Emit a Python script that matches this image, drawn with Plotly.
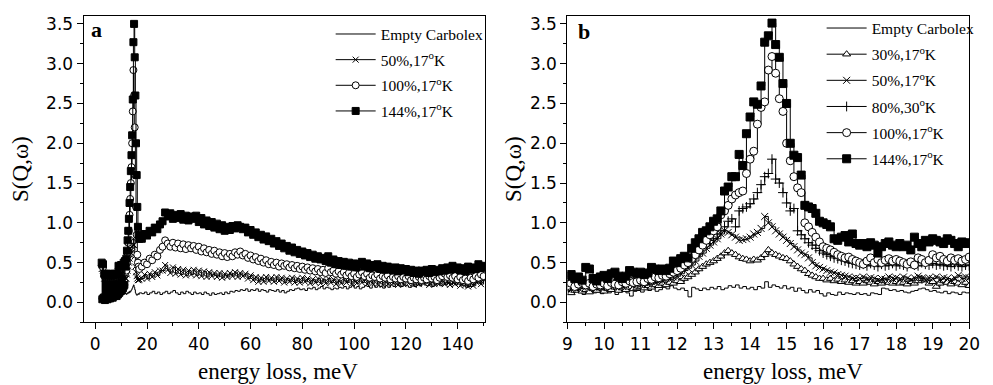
import plotly.graph_objects as go

# ---------------- Panel a data ----------------
# energy grid pieces (meV)
xa_low = [2.5 + 0.25 * i for i in range(38)]
xa_peak = [12.0 + 0.25 * i for i in range(21)]
xa_tail = [18 + i for i in range(133)]
x_a = xa_low + xa_peak + xa_tail

a_empty_low = [0.05, 0.02, 0.06, 0.03, 0.05, 0.02, 0.04, 0.03, 0.05, 0.04,
               0.06, 0.04, 0.05, 0.06, 0.05, 0.07, 0.06, 0.05, 0.07, 0.06,
               0.08, 0.07, 0.06, 0.08, 0.07, 0.09, 0.08, 0.10, 0.09, 0.08,
               0.10, 0.09, 0.11, 0.10, 0.12, 0.11, 0.12, 0.11]
a_empty_peak = [0.10, 0.12, 0.11, 0.13, 0.12, 0.14, 0.13, 0.15, 0.16, 0.18, 0.20,
                0.22, 0.19, 0.16, 0.12, 0.10, 0.09, 0.10, 0.11, 0.10, 0.12]
a_empty_tail = [0.11, 0.13, 0.10, 0.12, 0.14, 0.11, 0.13, 0.10, 0.12, 0.14,
                0.11, 0.13, 0.15, 0.12, 0.10, 0.13, 0.11, 0.14, 0.12, 0.10,
                0.13, 0.11, 0.12, 0.10, 0.13, 0.11, 0.09, 0.12, 0.10, 0.11,
                0.12, 0.10, 0.13, 0.11, 0.14, 0.13, 0.15, 0.14, 0.16, 0.15,
                0.17, 0.14, 0.16, 0.15, 0.17, 0.14, 0.16, 0.15, 0.13, 0.16,
                0.15, 0.14, 0.16, 0.13, 0.15, 0.12, 0.14, 0.16, 0.15, 0.17,
                0.18, 0.16, 0.17, 0.15, 0.18, 0.17, 0.19, 0.16, 0.18, 0.20,
                0.17, 0.19, 0.18, 0.16, 0.18, 0.17, 0.19, 0.18, 0.20, 0.17,
                0.19, 0.21, 0.18, 0.20, 0.17, 0.19, 0.21, 0.20, 0.18, 0.22,
                0.19, 0.21, 0.20, 0.18, 0.21, 0.19, 0.22, 0.20, 0.23, 0.21,
                0.20, 0.22, 0.21, 0.19, 0.22, 0.20, 0.23, 0.21, 0.24, 0.22,
                0.21, 0.23, 0.20, 0.22, 0.24, 0.21, 0.23, 0.22, 0.25, 0.23,
                0.24, 0.22, 0.25, 0.23, 0.21, 0.19, 0.22, 0.20, 0.23, 0.25,
                0.24, 0.27, 0.26]

a_50_low = [0.42, 0.04, 0.40, 0.06, 0.30, 0.03, 0.29, 0.05, 0.30, 0.04,
            0.28, 0.06, 0.29, 0.05, 0.30, 0.07, 0.28, 0.06, 0.29, 0.08,
            0.30, 0.09, 0.29, 0.08, 0.31, 0.10, 0.38, 0.12, 0.37, 0.14,
            0.39, 0.15, 0.38, 0.17, 0.41, 0.20, 0.42, 0.30]
a_50_peak = [0.30, 0.35, 0.40, 0.45, 0.50, 0.55, 0.60, 0.62, 0.66, 0.70, 0.72,
             0.80, 0.72, 0.58, 0.45, 0.38, 0.33, 0.30, 0.28, 0.28, 0.29]
a_50_tail = [0.30, 0.35, 0.30, 0.36, 0.32, 0.38, 0.34, 0.40, 0.40, 0.47,
             0.41, 0.37, 0.44, 0.36, 0.42, 0.35, 0.41, 0.34, 0.40, 0.35,
             0.41, 0.34, 0.40, 0.33, 0.39, 0.32, 0.38, 0.33, 0.37, 0.32,
             0.37, 0.31, 0.36, 0.32, 0.37, 0.33, 0.38, 0.32, 0.37, 0.33,
             0.36, 0.30, 0.34, 0.28, 0.32, 0.26, 0.31, 0.26, 0.32, 0.27,
             0.31, 0.26, 0.32, 0.27, 0.31, 0.25, 0.30, 0.26, 0.31, 0.25,
             0.30, 0.25, 0.31, 0.26, 0.30, 0.24, 0.29, 0.25, 0.30, 0.24,
             0.29, 0.24, 0.30, 0.25, 0.29, 0.23, 0.28, 0.24, 0.30, 0.25,
             0.29, 0.23, 0.28, 0.24, 0.30, 0.25, 0.29, 0.23, 0.28, 0.24,
             0.29, 0.23, 0.28, 0.22, 0.27, 0.23, 0.29, 0.24, 0.28, 0.22,
             0.27, 0.23, 0.29, 0.24, 0.28, 0.22, 0.27, 0.23, 0.29, 0.24,
             0.28, 0.22, 0.27, 0.23, 0.29, 0.24, 0.28, 0.23, 0.27, 0.22,
             0.28, 0.23, 0.27, 0.21, 0.26, 0.22, 0.20, 0.25, 0.21, 0.26,
             0.28, 0.23, 0.29]

a_100_low = [0.46, 0.05, 0.44, 0.07, 0.33, 0.04, 0.32, 0.06, 0.33, 0.05,
             0.31, 0.07, 0.32, 0.06, 0.33, 0.08, 0.31, 0.07, 0.32, 0.09,
             0.33, 0.10, 0.32, 0.09, 0.34, 0.11, 0.42, 0.13, 0.41, 0.15,
             0.43, 0.16, 0.42, 0.19, 0.45, 0.22, 0.46, 0.38]
a_100_peak = [0.40, 0.50, 0.62, 0.75, 0.90, 1.10, 1.30, 1.50, 1.70, 2.00, 2.40,
              2.92, 2.60, 2.20, 1.60, 1.20, 0.85, 0.60, 0.50, 0.45, 0.42]
a_100_tail = [0.45, 0.50, 0.48, 0.55, 0.53, 0.60, 0.58, 0.66, 0.70, 0.78,
              0.74, 0.70, 0.75, 0.69, 0.74, 0.68, 0.73, 0.67, 0.72, 0.68,
              0.71, 0.66, 0.70, 0.64, 0.68, 0.63, 0.66, 0.61, 0.65, 0.60,
              0.63, 0.58, 0.62, 0.57, 0.61, 0.58, 0.63, 0.60, 0.64, 0.59,
              0.61, 0.56, 0.59, 0.54, 0.57, 0.52, 0.55, 0.50, 0.53, 0.48,
              0.51, 0.47, 0.50, 0.45, 0.49, 0.46, 0.48, 0.44, 0.47, 0.43,
              0.46, 0.42, 0.45, 0.41, 0.44, 0.40, 0.43, 0.39, 0.42, 0.38,
              0.41, 0.37, 0.43, 0.38, 0.40, 0.36, 0.39, 0.35, 0.38, 0.34,
              0.37, 0.33, 0.36, 0.32, 0.35, 0.38, 0.33, 0.36, 0.31, 0.34,
              0.32, 0.35, 0.30, 0.33, 0.31, 0.34, 0.29, 0.32, 0.30, 0.33,
              0.29, 0.32, 0.30, 0.33, 0.28, 0.31, 0.29, 0.32, 0.28, 0.31,
              0.29, 0.33, 0.30, 0.32, 0.28, 0.31, 0.33, 0.36, 0.32, 0.34,
              0.31, 0.33, 0.29, 0.32, 0.28, 0.30, 0.27, 0.31, 0.29, 0.33,
              0.31, 0.35, 0.33]

a_144_low = [0.50, 0.04, 0.48, 0.06, 0.36, 0.03, 0.35, 0.05, 0.36, 0.04,
             0.34, 0.06, 0.35, 0.05, 0.36, 0.07, 0.34, 0.06, 0.35, 0.08,
             0.36, 0.09, 0.35, 0.08, 0.36, 0.10, 0.46, 0.12, 0.45, 0.14,
             0.47, 0.15, 0.46, 0.18, 0.50, 0.22, 0.52, 0.45]
a_144_peak = [0.55, 0.65, 0.78, 0.90, 1.05, 1.25, 1.45, 1.65, 1.85, 2.10, 2.55,
              3.27, 3.50, 3.08, 2.60, 2.00, 1.60, 1.20, 0.95, 0.85, 0.80]
a_144_tail = [0.80, 0.86, 0.84, 0.90, 0.88, 0.94, 0.92, 0.98, 1.02, 1.13,
              1.08, 1.12, 1.05, 1.10, 1.06, 1.11, 1.04, 1.09, 1.03, 1.08,
              1.05, 1.09, 1.01, 1.06, 0.98, 1.03, 0.96, 1.01, 0.94, 0.99,
              0.92, 0.97, 0.90, 0.95, 0.91, 0.96, 0.93, 0.97, 0.95, 0.92,
              0.94, 0.88, 0.91, 0.85, 0.88, 0.82, 0.85, 0.79, 0.83, 0.77,
              0.80, 0.74, 0.77, 0.71, 0.74, 0.68, 0.71, 0.65, 0.69, 0.63,
              0.66, 0.61, 0.64, 0.59, 0.62, 0.57, 0.60, 0.55, 0.58, 0.54,
              0.56, 0.52, 0.58, 0.50, 0.54, 0.48, 0.52, 0.47, 0.51, 0.46,
              0.50, 0.45, 0.49, 0.44, 0.48, 0.51, 0.45, 0.49, 0.43, 0.47,
              0.44, 0.48, 0.42, 0.46, 0.41, 0.45, 0.43, 0.40, 0.44, 0.39,
              0.43, 0.40, 0.42, 0.38, 0.41, 0.37, 0.40, 0.36, 0.40, 0.38,
              0.41, 0.37, 0.42, 0.38, 0.41, 0.39, 0.43, 0.40, 0.44, 0.41,
              0.46, 0.42, 0.44, 0.40, 0.43, 0.39, 0.45, 0.41, 0.44, 0.42,
              0.48, 0.43, 0.46]

# ---------------- Panel b data ----------------
x_b = [round(9.0 + 0.1 * i, 1) for i in range(111)]

b_empty = [0.14, 0.12, 0.15, 0.13, 0.10, 0.14, 0.16, 0.12, 0.13, 0.11,
           0.15, 0.12, 0.14, 0.10, 0.13, 0.16, 0.12, 0.08, 0.14, 0.15,
           0.13, 0.17, 0.15, 0.18, 0.14, 0.16, 0.19, 0.17, 0.21, 0.18,
           0.16, 0.18, 0.15, 0.07, 0.19, 0.17, 0.15, 0.18, 0.16, 0.19,
           0.17, 0.20, 0.16, 0.18, 0.21, 0.19, 0.22, 0.18, 0.20, 0.17,
           0.19, 0.16, 0.20, 0.18, 0.26, 0.19, 0.22, 0.20, 0.18, 0.21,
           0.17, 0.19, 0.14, 0.18, 0.15, 0.12, 0.16, 0.13, 0.15, 0.11,
           0.08, 0.12, 0.10, 0.09, 0.13, 0.10, 0.12, 0.11, 0.10, 0.12,
           0.10, 0.11, 0.09, 0.12, 0.11, 0.10, 0.18, 0.17, 0.15, 0.16,
           0.14, 0.15, 0.13, 0.12, 0.14, 0.15, 0.17, 0.18, 0.16, 0.14,
           0.15, 0.13, 0.12, 0.14, 0.11, 0.13, 0.12, 0.10, 0.13, 0.12,
           0.13]

b_30 = [0.17, 0.12, 0.15, 0.18, 0.14, 0.16, 0.13, 0.17, 0.15, 0.18,
        0.14, 0.17, 0.16, 0.19, 0.15, 0.18, 0.16, 0.19, 0.17, 0.18,
        0.20, 0.18, 0.21, 0.19, 0.22, 0.21, 0.24, 0.22, 0.25, 0.24,
        0.27, 0.26, 0.30, 0.32, 0.35, 0.38, 0.42, 0.45, 0.48, 0.50,
        0.52, 0.55, 0.58, 0.62, 0.65, 0.62, 0.60, 0.57, 0.55, 0.54,
        0.52, 0.54, 0.53, 0.56, 0.60, 0.66, 0.62, 0.60, 0.58, 0.56,
        0.55, 0.52, 0.48, 0.45, 0.42, 0.40, 0.36, 0.34, 0.32, 0.30,
        0.30, 0.28, 0.30, 0.27, 0.29, 0.26, 0.28, 0.25, 0.27, 0.24,
        0.26, 0.24, 0.27, 0.25, 0.23, 0.26, 0.24, 0.27, 0.25, 0.24,
        0.26, 0.24, 0.25, 0.23, 0.26, 0.24, 0.27, 0.30, 0.28, 0.24,
        0.26, 0.20, 0.24, 0.27, 0.25, 0.23, 0.26, 0.24, 0.22, 0.25,
        0.21]

b_50 = [0.20, 0.17, 0.21, 0.18, 0.20, 0.22, 0.19, 0.21, 0.18, 0.20,
        0.19, 0.22, 0.20, 0.23, 0.21, 0.20, 0.22, 0.24, 0.21, 0.23,
        0.22, 0.25, 0.23, 0.26, 0.25, 0.28, 0.27, 0.30, 0.29, 0.32,
        0.33, 0.36, 0.40, 0.43, 0.47, 0.52, 0.58, 0.62, 0.68, 0.72,
        0.76, 0.80, 0.86, 0.90, 0.88, 0.85, 0.82, 0.78, 0.79, 0.80,
        0.82, 0.86, 0.88, 0.93, 1.08, 1.00, 0.95, 0.90, 0.86, 0.82,
        0.78, 0.74, 0.70, 0.66, 0.62, 0.60, 0.56, 0.50, 0.46, 0.44,
        0.42, 0.40, 0.38, 0.37, 0.35, 0.34, 0.33, 0.32, 0.30, 0.31,
        0.30, 0.32, 0.29, 0.31, 0.30, 0.28, 0.30, 0.29, 0.32, 0.30,
        0.31, 0.29, 0.32, 0.30, 0.28, 0.31, 0.33, 0.30, 0.28, 0.31,
        0.30, 0.32, 0.29, 0.31, 0.30, 0.28, 0.31, 0.34, 0.30, 0.32,
        0.31]

b_80 = [0.22, 0.20, 0.24, 0.21, 0.23, 0.25, 0.22, 0.24, 0.21, 0.23,
        0.22, 0.25, 0.23, 0.26, 0.24, 0.23, 0.26, 0.27, 0.24, 0.26,
        0.25, 0.28, 0.27, 0.30, 0.29, 0.32, 0.31, 0.35, 0.34, 0.38,
        0.40, 0.44, 0.48, 0.52, 0.56, 0.60, 0.65, 0.70, 0.74, 0.78,
        0.80, 0.86, 0.90, 0.95, 1.02, 1.05, 0.95, 1.15, 1.18, 1.20,
        1.24, 1.30, 1.38, 1.48, 1.58, 1.62, 1.80, 1.55, 1.50, 1.38,
        1.25, 1.15, 1.18, 0.90, 0.85, 0.80, 0.75, 0.72, 0.68, 0.65,
        0.62, 0.60, 0.58, 0.56, 0.55, 0.53, 0.52, 0.50, 0.49, 0.48,
        0.47, 0.48, 0.46, 0.49, 0.47, 0.45, 0.48, 0.46, 0.47, 0.49,
        0.46, 0.48, 0.47, 0.45, 0.49, 0.47, 0.46, 0.50, 0.48, 0.47,
        0.49, 0.47, 0.48, 0.46, 0.47, 0.45, 0.48, 0.46, 0.45, 0.47,
        0.46]

b_100 = [0.21, 0.24, 0.20, 0.23, 0.25, 0.22, 0.24, 0.20, 0.23, 0.22,
         0.24, 0.21, 0.25, 0.23, 0.22, 0.26, 0.24, 0.27, 0.25, 0.26,
         0.28, 0.26, 0.30, 0.29, 0.32, 0.31, 0.34, 0.33, 0.36, 0.38,
         0.40, 0.43, 0.47, 0.50, 0.55, 0.60, 0.66, 0.72, 0.78, 0.85,
         0.90, 0.95, 1.10, 1.15, 1.22, 1.30, 1.35, 1.38, 1.40, 1.62,
         1.80, 1.90, 2.24, 2.45, 2.52, 2.92, 3.09, 2.88, 2.56, 2.40,
         2.00, 1.78, 1.58, 1.44, 1.38, 1.00, 0.95, 0.88, 0.82, 0.76,
         0.70, 0.68, 0.66, 0.63, 0.60, 0.58, 0.56, 0.57, 0.54, 0.52,
         0.50, 0.48, 0.52, 0.56, 0.50, 0.54, 0.50, 0.53, 0.55, 0.52,
         0.54, 0.52, 0.50, 0.48, 0.51, 0.47, 0.56, 0.54, 0.50, 0.53,
         0.60, 0.56, 0.58, 0.54, 0.52, 0.56, 0.53, 0.55, 0.52, 0.54,
         0.57]

b_144 = [0.33, 0.35, 0.30, 0.32, 0.28, 0.44, 0.42, 0.30, 0.27, 0.32,
         0.34, 0.30, 0.36, 0.38, 0.33, 0.30, 0.33, 0.40, 0.38, 0.36,
         0.38, 0.35, 0.37, 0.44, 0.42, 0.40, 0.42, 0.40, 0.43, 0.52,
         0.50, 0.55, 0.58, 0.56, 0.68, 0.75, 0.80, 0.88, 0.90, 0.95,
         1.02, 1.05, 1.15, 1.40, 1.45, 1.58, 1.58, 1.86, 1.72, 2.12,
         2.33, 2.52, 2.49, 2.72, 3.27, 3.35, 3.51, 3.24, 3.08, 2.75,
         2.50, 2.00, 1.85, 1.82, 1.60, 1.22, 1.20, 1.18, 1.12, 1.02,
         1.00, 0.98, 0.95, 0.80, 0.78, 0.82, 0.84, 0.76, 0.86, 0.74,
         0.72, 0.74, 0.70, 0.75, 0.72, 0.62, 0.70, 0.74, 0.76, 0.72,
         0.70, 0.74, 0.70, 0.72, 0.66, 0.82, 0.74, 0.70, 0.78, 0.76,
         0.80, 0.78, 0.76, 0.74, 0.80, 0.78, 0.74, 0.70, 0.76, 0.74,
         0.75]

def lab(p, t):
    return f"{p}%,{t}<sup>o</sup>K"

SERIF = "Liberation Serif, Times New Roman, serif"
SANS = "DejaVu Sans, Verdana, sans-serif"

fig = go.Figure()

def add(x, y, name, symbol, fill, size, xa, ya, leg, grp, mode="lines+markers"):
    fig.add_trace(go.Scatter(
        x=x, y=y, name=name, mode=mode, line_shape="hv",
        line=dict(color="black", width=1),
        marker=dict(symbol=symbol, size=size, color=fill,
                    line=dict(color="black", width=1)),
        xaxis=xa, yaxis=ya, legend=leg, legendgroup=grp))

# panel a
add(x_a, a_empty_low + a_empty_peak + a_empty_tail, "Empty Carbolex",
    "circle", "black", 1, "x", "y", "legend", "a0", mode="lines")
add(x_a, a_50_low + a_50_peak + a_50_tail, lab(50, 17),
    "x-thin", "black", 6, "x", "y", "legend", "a1")
add(x_a, a_100_low + a_100_peak + a_100_tail, lab(100, 17),
    "circle", "white", 7, "x", "y", "legend", "a2")
add(x_a, a_144_low + a_144_peak + a_144_tail, lab(144, 17),
    "square", "black", 7, "x", "y", "legend", "a3")

# panel b
add(x_b, b_empty, "Empty Carbolex", "circle", "black", 1, "x2", "y2", "legend2", "b0", mode="lines")
add(x_b, b_30, lab(30, 17), "triangle-up", "white", 7, "x2", "y2", "legend2", "b1")
add(x_b, b_50, lab(50, 17), "x-thin", "black", 7, "x2", "y2", "legend2", "b2")
add(x_b, b_80, lab(80, 30), "cross-thin", "black", 7, "x2", "y2", "legend2", "b3")
add(x_b, b_100, lab(100, 17), "circle", "white", 8, "x2", "y2", "legend2", "b4")
add(x_b, b_144, lab(144, 17), "square", "black", 8, "x2", "y2", "legend2", "b5")

W, H = 993, 385
ydom = [1 - 322 / H, 1 - 14 / H]

def xax(dom, rng, dtick, minor):
    return dict(domain=dom, range=rng, dtick=dtick, tick0=0,
                showline=True, mirror=True, linecolor="black", linewidth=1.3,
                ticks="outside", ticklen=6, tickwidth=1.2, tickcolor="black",
                minor=dict(ticks="outside", ticklen=3, dtick=minor, tickcolor="black", tickwidth=1),
                showgrid=False, zeroline=False,
                tickfont=dict(family=SANS, size=17, color="black"))

def yax(dom, anchor, standoff):
    return dict(domain=dom, range=[-0.25, 3.6], dtick=0.5, tick0=0, anchor=anchor,
                tickformat=".1f",
                showline=True, mirror=True, linecolor="black", linewidth=1.3,
                ticks="outside", ticklen=6, tickwidth=1.2, tickcolor="black",
                minor=dict(ticks="outside", ticklen=3, dtick=0.25, tickcolor="black", tickwidth=1),
                showgrid=False, zeroline=False,
                tickfont=dict(family=SANS, size=17, color="black"),
                title=dict(text="S(Q,ω)", font=dict(family=SERIF, size=23, color="black"),
                           standoff=standoff))

titlefont = dict(family=SERIF, size=23, color="black")
legfont = dict(family=SERIF, size=15.5, color="black")
legcommon = dict(xanchor="left", yanchor="top", bgcolor="rgba(0,0,0,0)", font=legfont,
                 itemwidth=40, traceorder="grouped")
fig.update_layout(
    width=W, height=H, margin=dict(l=0, r=0, t=0, b=0),
    paper_bgcolor="white", plot_bgcolor="white", showlegend=True,
    xaxis=dict(xax([80 / W, 488 / W], [-4.45, 150.6], 20, 10), anchor="y"),
    yaxis=yax(ydom, "x", 11),
    xaxis2=dict(xax([571.7 / W, 980 / W], [9, 20], 1, 0.5), anchor="y2"),
    yaxis2=yax(ydom, "x2", 1),
    legend=dict(legcommon, x=331 / W, y=1 - 15.5 / H, tracegroupgap=2.5),
    legend2=dict(legcommon, x=830 / W, y=1 - 9.5 / H, tracegroupgap=3),
    annotations=[
        dict(text="<b>a</b>", x=93 / W, y=1 - 28 / H, xref="paper", yref="paper",
             xanchor="center", yanchor="middle",
             showarrow=False, font=dict(family=SERIF, size=22, color="black")),
        dict(text="<b>b</b>", x=588 / W, y=1 - 30 / H, xref="paper", yref="paper",
             xanchor="center", yanchor="middle",
             showarrow=False, font=dict(family=SERIF, size=22, color="black")),
        dict(text="energy loss, meV", x=277.5 / W, y=1 - 371 / H, xref="paper", yref="paper",
             xanchor="center", yanchor="middle", showarrow=False, font=titlefont),
        dict(text="energy loss, meV", x=791 / W, y=1 - 371 / H, xref="paper", yref="paper",
             xanchor="center", yanchor="middle", showarrow=False, font=titlefont),
    ],
)

fig.write_html("out.html")
